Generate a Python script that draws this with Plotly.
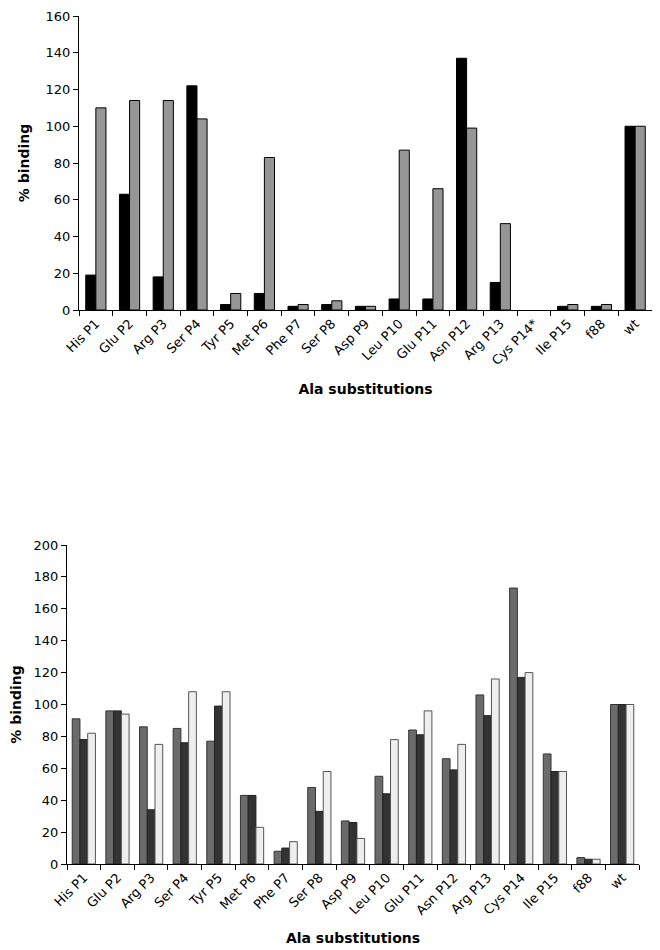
import plotly.graph_objects as go

categories_top = ["His P1", "Glu P2", "Arg P3", "Ser P4", "Tyr P5", "Met P6", "Phe P7", "Ser P8",
                  "Asp P9", "Leu P10", "Glu P11", "Asn P12", "Arg P13", "Cys P14*", "Ile P15", "f88", "wt"]
top_black = [19, 63, 18, 122, 3, 9, 2, 3, 2, 6, 6, 137, 15, 0, 2, 2, 100]
top_grey = [110, 114, 114, 104, 9, 83, 3, 5, 2, 87, 66, 99, 47, 0, 3, 3, 100]

categories_bottom = ["His P1", "Glu P2", "Arg P3", "Ser P4", "Tyr P5", "Met P6", "Phe P7", "Ser P8",
                     "Asp P9", "Leu P10", "Glu P11", "Asn P12", "Arg P13", "Cys P14", "Ile P15", "f88", "wt"]
bot_s1 = [91, 96, 86, 85, 77, 43, 8, 48, 27, 55, 84, 66, 106, 173, 69, 4, 100]
bot_s2 = [78, 96, 34, 76, 99, 43, 10, 33, 26, 44, 81, 59, 93, 117, 58, 3, 100]
bot_s3 = [82, 94, 75, 108, 108, 23, 14, 58, 16, 78, 96, 75, 116, 120, 58, 3, 100]

top_ticks = [0, 20, 40, 60, 80, 100, 120, 140, 160]
bot_ticks = [0, 20, 40, 60, 80, 100, 120, 140, 160, 180, 200]

OFF = 8  # page body margin
W, H = 660 - OFF, 950 - OFF
FONT = "DejaVu Sans"


def px_x(a, b):
    return [(a - OFF) / W, (b - OFF) / W]


def px_y(top, bottom):
    return [1 - (bottom - OFF) / H, 1 - (top - OFF) / H]


def lw(vals, w=1):
    return [w if v > 0 else 0 for v in vals]


fig = go.Figure()
fig.add_trace(go.Bar(x=categories_top, y=top_black, width=0.3, offset=-0.3,
                     marker=dict(color="#000000", line=dict(color="#000000", width=lw(top_black))),
                     xaxis="x", yaxis="y", showlegend=False))
fig.add_trace(go.Bar(x=categories_top, y=top_grey, width=0.3, offset=0.0,
                     marker=dict(color="#969696", line=dict(color="#000000", width=lw(top_grey))),
                     xaxis="x", yaxis="y", showlegend=False))
fig.add_trace(go.Bar(x=categories_bottom, y=bot_s1, width=0.23, offset=-0.345,
                     marker=dict(color="#6b6b6b", line=dict(color="#333333", width=1)),
                     xaxis="x2", yaxis="y2", showlegend=False))
fig.add_trace(go.Bar(x=categories_bottom, y=bot_s2, width=0.23, offset=-0.115,
                     marker=dict(color="#333333", line=dict(color="#222222", width=1)),
                     xaxis="x2", yaxis="y2", showlegend=False))
fig.add_trace(go.Bar(x=categories_bottom, y=bot_s3, width=0.23, offset=0.115,
                     marker=dict(color="#eeeeee", line=dict(color="#555555", width=1)),
                     xaxis="x2", yaxis="y2", showlegend=False))

common_x = dict(type="category", tickangle=-45, showline=True, linecolor="#000000", linewidth=1,
                ticks="outside", ticklen=5, tickcolor="#000000", tickson="boundaries",
                showgrid=False, zeroline=False, automargin=False, ticklabeloverflow="allow")
common_y = dict(showline=True, linecolor="#000000", linewidth=1, ticks="outside", ticklen=5,
                tickcolor="#000000", showgrid=False, zeroline=False, automargin=False,
                ticklabeloverflow="allow")

fig.update_layout(
    width=W, height=H,
    margin=dict(l=0, r=0, t=0, b=0),
    paper_bgcolor="white", plot_bgcolor="white",
    barmode="overlay",
    font=dict(family=FONT, color="#000000"),
    xaxis=dict(domain=px_x(79, 652), anchor="y", tickfont=dict(size=13, family=FONT),
               title=dict(text="<b>Ala substitutions</b>", font=dict(size=14, family=FONT), standoff=16), **common_x),
    yaxis=dict(domain=px_y(16, 310), anchor="x", range=[0, 160], tickvals=top_ticks,
               tickfont=dict(size=13, family=FONT),
               title=dict(text="<b>% binding</b>", font=dict(size=14, family=FONT), standoff=12), **common_y),
    xaxis2=dict(domain=px_x(67, 639), anchor="y2", tickfont=dict(size=13, family=FONT),
                title=dict(text="<b>Ala substitutions</b>", font=dict(size=14, family=FONT), standoff=16), **common_x),
    yaxis2=dict(domain=px_y(545, 864), anchor="x2", range=[0, 200], tickvals=bot_ticks,
                tickfont=dict(size=13, family=FONT),
                title=dict(text="<b>% binding</b>", font=dict(size=14, family=FONT), standoff=10), **common_y),
)

fig.write_html("out.html")
